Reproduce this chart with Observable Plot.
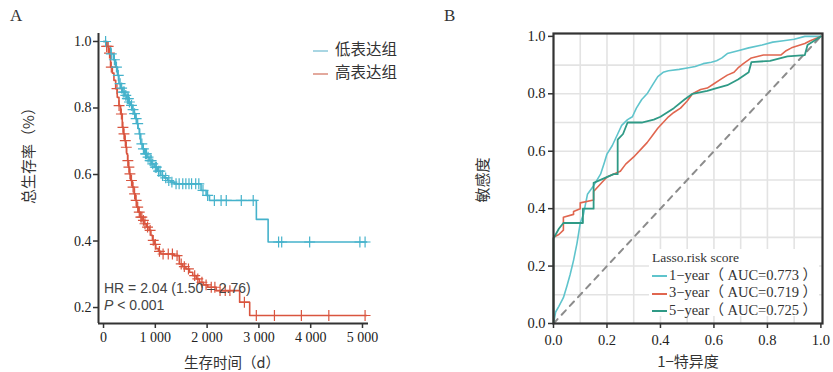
<!DOCTYPE html>
<html><head><meta charset="utf-8">
<script src="https://cdn.jsdelivr.net/npm/d3@7"></script>
<script src="https://cdn.jsdelivr.net/npm/@observablehq/plot@0.6"></script>
<style>
body{margin:0;background:#fff}
#wrap{position:relative;width:833px;height:372px;overflow:hidden;background:#fff}
#a,#b{position:absolute;top:0}
#a{left:0}#b{left:420px}
.t{position:absolute;white-space:nowrap;color:#333}
.serif{font-family:"Liberation Serif","Noto Sans CJK SC",serif}
.cjk{font-family:"Noto Sans CJK SC",sans-serif}
.rot{transform:translate(-50%,-50%) rotate(-90deg)}
.ctr{transform:translate(-50%,-50%)}
.sw{display:inline-block;width:15px;height:0;border-top:2px solid;vertical-align:middle;margin-right:2px}
</style></head>
<body><div id="wrap">
<div id="a"></div><div id="b"></div>
<div class="t serif" style="left:10px;top:6px;font-size:17px">A</div>
<div class="t serif" style="left:444px;top:6px;font-size:17px">B</div>
<div class="t cjk rot" style="left:27px;top:152px;font-size:15px">总生存率（%）</div>
<div class="t cjk ctr" style="left:232px;top:361px;font-size:14.5px">生存时间（d）</div>
<div class="t cjk rot" style="left:481px;top:180px;font-size:15px">敏感度</div>
<div class="t cjk ctr" style="left:688px;top:360px;font-size:15px">1−特异度</div>
<div class="t cjk" style="left:313px;top:37px;font-size:15.5px;line-height:23px">
  <div><span class="sw" style="border-color:#a9d6e3;width:15px;margin-right:7px"></span>低表达组</div>
  <div><span class="sw" style="border-color:#e3a99d;width:15px;margin-right:7px"></span>高表达组</div>
</div>
<div class="t" style="left:104px;top:280px;font-family:'Liberation Sans',Arial,sans-serif;font-size:14px;line-height:17px;color:#444">
  <div>HR = 2.04 (1.50 – 2.76)</div>
  <div><i>P</i> &lt; 0.001</div>
</div>
<div class="t serif" style="left:649px;top:249px;width:170px;height:67px;background:#fff;font-size:14.5px;line-height:17.5px;color:#333">
  <div style="padding-left:3px;font-size:13.5px">Lasso.risk score</div>
  <div><span class="sw" style="border-color:#5fc4cc;margin-left:3px"></span>1−year（ AUC=0.773 ）</div>
  <div><span class="sw" style="border-color:#e0664f;margin-left:3px"></span>3−year（ AUC=0.719 ）</div>
  <div><span class="sw" style="border-color:#2f9a86;margin-left:3px"></span>5−year（ AUC=0.725 ）</div>
</div>
</div>
<script>
// ---- Panel A: Kaplan–Meier data ----
const lowTime = [0, 70, 136, 190, 233, 270, 298, 330, 362, 410, 447, 490, 524, 560, 589, 621, 645, 667, 690, 718, 760, 796, 840, 880, 930, 977, 1040, 1107, 1170, 1236, 1300, 1366, 1883, 1981, 2046, 2951, 3178, 5080];
const lowSurv = [1.0, 0.985, 0.963, 0.945, 0.923, 0.898, 0.873, 0.86, 0.848, 0.838, 0.828, 0.818, 0.808, 0.795, 0.783, 0.768, 0.753, 0.738, 0.722, 0.692, 0.677, 0.662, 0.652, 0.642, 0.632, 0.622, 0.61, 0.597, 0.59, 0.582, 0.577, 0.572, 0.552, 0.537, 0.522, 0.465, 0.397, 0.397];
const highTime = [0, 50, 100, 136, 170, 201, 235, 265, 298, 330, 362, 385, 408, 430, 447, 465, 479, 500, 524, 555, 589, 615, 641, 675, 706, 745, 783, 830, 880, 915, 945, 980, 1010, 1060, 1107, 1366, 1463, 1530, 1592, 1660, 1722, 1790, 1851, 1930, 2013, 2175, 2628, 2822, 5080];
const highSurv = [1.0, 0.985, 0.965, 0.923, 0.905, 0.883, 0.858, 0.832, 0.807, 0.782, 0.742, 0.722, 0.702, 0.682, 0.662, 0.642, 0.622, 0.602, 0.582, 0.562, 0.542, 0.522, 0.502, 0.487, 0.472, 0.462, 0.452, 0.442, 0.432, 0.417, 0.402, 0.39, 0.377, 0.369, 0.361, 0.356, 0.331, 0.323, 0.316, 0.306, 0.296, 0.286, 0.276, 0.268, 0.261, 0.251, 0.216, 0.176, 0.176];
const lowCensor = [40, 150, 210, 250, 285, 320, 350, 380, 400, 430, 460, 480, 500, 540, 570, 600, 630, 660, 700, 740, 770, 810, 830, 860, 900, 920, 950, 1000, 1020, 1060, 1090, 1140, 1200, 1260, 1320, 1400, 1460, 1530, 1590, 1650, 1700, 1780, 1840, 1920, 2010, 2140, 2270, 2370, 2660, 2890, 3380, 3440, 3980, 4950, 5050];
const highCensor = [60, 90, 115, 150, 260, 300, 345, 375, 395, 420, 440, 470, 490, 510, 540, 570, 600, 630, 660, 690, 720, 740, 770, 800, 850, 900, 960, 1000, 1080, 1150, 1250, 1330, 1420, 1500, 1560, 1640, 1760, 1820, 1900, 1980, 2080, 2150, 2250, 2350, 2440, 2720, 2950, 3300, 3820, 4350, 5050];
const xTicksA = [0, 1000, 2000, 3000, 4000, 5000];
const yTicksA = [0.2, 0.4, 0.6, 0.8, 1.0];

// ---- Panel B: ROC data ----
const roc1x = [0, 0.008, 0.02, 0.037, 0.05, 0.062, 0.075, 0.088, 0.1, 0.112, 0.127, 0.15, 0.176, 0.19, 0.2, 0.22, 0.24, 0.255, 0.277, 0.295, 0.31, 0.33, 0.35, 0.37, 0.39, 0.41, 0.43, 0.47, 0.5, 0.53, 0.56, 0.59, 0.61, 0.63, 0.65, 0.69, 0.73, 0.78, 0.82, 0.86, 0.9, 0.94, 1.0];
const roc1y = [0, 0.04, 0.06, 0.09, 0.13, 0.17, 0.22, 0.28, 0.35, 0.38, 0.45, 0.48, 0.52, 0.56, 0.59, 0.62, 0.66, 0.69, 0.71, 0.72, 0.75, 0.78, 0.80, 0.83, 0.86, 0.875, 0.88, 0.885, 0.89, 0.895, 0.905, 0.91, 0.915, 0.925, 0.94, 0.95, 0.96, 0.97, 0.98, 0.985, 0.99, 1.0, 1.0];
const roc3x = [0, 0, 0.02, 0.037, 0.037, 0.075, 0.075, 0.1, 0.1, 0.15, 0.15, 0.18, 0.2, 0.25, 0.27, 0.3, 0.33, 0.35, 0.37, 0.39, 0.41, 0.43, 0.45, 0.475, 0.5, 0.52, 0.55, 0.575, 0.6, 0.625, 0.65, 0.675, 0.69, 0.71, 0.74, 0.785, 0.85, 0.87, 0.89, 0.94, 0.96, 1.0];
const roc3y = [0, 0.30, 0.31, 0.325, 0.37, 0.38, 0.39, 0.40, 0.42, 0.43, 0.46, 0.49, 0.51, 0.53, 0.555, 0.58, 0.61, 0.63, 0.655, 0.68, 0.70, 0.72, 0.735, 0.75, 0.775, 0.80, 0.815, 0.82, 0.835, 0.85, 0.865, 0.875, 0.89, 0.905, 0.925, 0.935, 0.935, 0.95, 0.96, 0.975, 0.985, 1.0];
const roc5x = [0, 0, 0.02, 0.037, 0.11, 0.11, 0.15, 0.15, 0.225, 0.24, 0.24, 0.26, 0.277, 0.33, 0.375, 0.4, 0.45, 0.49, 0.52, 0.575, 0.61, 0.65, 0.69, 0.73, 0.74, 0.81, 0.875, 0.94, 0.95, 0.975, 1.0];
const roc5y = [0, 0.296, 0.33, 0.35, 0.35, 0.40, 0.40, 0.49, 0.52, 0.52, 0.64, 0.66, 0.70, 0.70, 0.71, 0.72, 0.75, 0.78, 0.80, 0.81, 0.82, 0.83, 0.85, 0.875, 0.91, 0.915, 0.93, 0.935, 0.97, 0.985, 1.0];
const diagX = [0, 1];
const xTicksB = [0, 0.2, 0.4, 0.6, 0.8, 1.0];
const yTicksB = [0, 0.2, 0.4, 0.6, 0.8, 1.0];
const gridB = [0.1, 0.2, 0.3, 0.4, 0.5, 0.6, 0.7, 0.8, 0.9];

const BLUE = "#45b2cb", RED = "#d9553f";
const C1 = "#5fc4cc", C3 = "#e0664f", C5 = "#2f9a86";

function steps(times, surv, group) {
  return times.map((t, i) => ({t, s: surv[i], group}));
}
function censorPts(times, stepT, stepS, group) {
  return times.map(t => {
    let i = d3.bisectRight(stepT, t) - 1;
    return {t, s: stepS[Math.max(0, i)], group};
  });
}
const lowLine = steps(lowTime, lowSurv, "low");
const highLine = steps(highTime, highSurv, "high");
const lowC = censorPts(lowCensor, lowTime, lowSurv, "low");
const highC = censorPts(highCensor, highTime, highSurv, "high");

const fmtA = d => d === 0 ? "0" : d3.format(",")(d).replace(/,/g, " ");

const plotA = Plot.plot({
  width: 420, height: 372,
  marginLeft: 98, marginRight: 52, marginTop: 33, marginBottom: 49,
  x: {domain: [-97, 5116]},
  y: {domain: [0.152, 1.024]},
  style: {fontFamily: "'Liberation Serif', serif", fontSize: "14px", color: "#222", background: "transparent"},
  marks: [
    Plot.line(highLine, {x: "t", y: "s", curve: "step-after", stroke: RED, strokeWidth: 1.6}),
    Plot.line(lowLine, {x: "t", y: "s", curve: "step-after", stroke: BLUE, strokeWidth: 1.6}),
    Plot.dot(highC, {x: "t", y: "s", symbol: "plus", r: 3.6, stroke: RED, strokeWidth: 1.2}),
    Plot.dot(lowC, {x: "t", y: "s", symbol: "plus", r: 3.6, stroke: BLUE, strokeWidth: 1.2}),
    Plot.ruleX([-97], {stroke: "#333", strokeWidth: 2}),
    Plot.ruleY([0.152], {stroke: "#333", strokeWidth: 2}),
    Plot.axisX({ticks: xTicksA, tickFormat: fmtA, tickSize: 5, tickPadding: 4, label: null, strokeWidth: 1.5, stroke: "#333", fontSize: 14}),
    Plot.axisY({ticks: yTicksA, tickFormat: d3.format(".1f"), tickSize: 5, tickPadding: 2, label: null, strokeWidth: 1.5, stroke: "#333", fontSize: 14})
  ]
});
document.getElementById("a").appendChild(plotA);

const rocData = [
  ...roc1x.map((x, i) => ({x, y: roc1y[i], k: "1"})),
  ...roc3x.map((x, i) => ({x, y: roc3y[i], k: "3"})),
  ...roc5x.map((x, i) => ({x, y: roc5y[i], k: "5"}))
];
const plotB = Plot.plot({
  width: 413, height: 372,
  marginLeft: 133, marginRight: 11, marginTop: 33, marginBottom: 49,
  x: {domain: [0, 1.006]},
  y: {domain: [0, 1.01]},
  style: {fontFamily: "'Liberation Serif', serif", fontSize: "14px", color: "#222", background: "transparent"},
  marks: [
    Plot.gridX(gridB, {stroke: "#e3e3e3", strokeOpacity: 1, strokeWidth: 1.6}),
    Plot.gridY(gridB, {stroke: "#e3e3e3", strokeOpacity: 1, strokeWidth: 1.6}),
    Plot.line(diagX, {x: d => d, y: d => d, stroke: "#8c8c8c", strokeWidth: 2, strokeDasharray: "6,6"}),
    Plot.line(rocData.filter(d => d.k === "1"), {x: "x", y: "y", stroke: C1, strokeWidth: 1.6}),
    Plot.line(rocData.filter(d => d.k === "3"), {x: "x", y: "y", stroke: C3, strokeWidth: 1.6}),
    Plot.line(rocData.filter(d => d.k === "5"), {x: "x", y: "y", stroke: C5, strokeWidth: 1.8}),
    Plot.frame({stroke: "#333", strokeWidth: 2.2}),
    Plot.axisX({ticks: xTicksB, tickFormat: d3.format(".1f"), tickSize: 5, tickPadding: 6, label: null, strokeWidth: 1.5, stroke: "#333", fontSize: 14.5}),
    Plot.axisY({ticks: yTicksB, tickFormat: d3.format(".1f"), tickSize: 5, tickPadding: 3, label: null, strokeWidth: 1.5, stroke: "#333", fontSize: 14.5})
  ]
});
document.getElementById("b").appendChild(plotB);
</script>
</body></html>
